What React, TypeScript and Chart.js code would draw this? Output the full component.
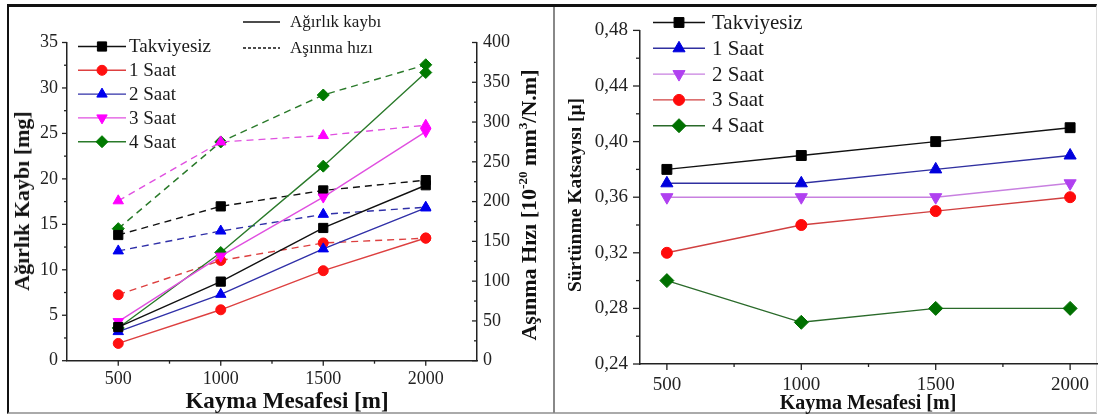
import React, { useEffect, useRef } from 'react';
import { Chart, registerables } from 'chart.js';
import { drawPoint } from 'chart.js/helpers';

Chart.register(...registerables);

// ---------- data ----------
const distances = [500, 1000, 1500, 2000];
const seriesNames = ['Takviyesiz', '1 Saat', '2 Saat', '3 Saat', '4 Saat'];
const lineStyleLabels = ['Ağırlık kaybı', 'Aşınma hızı'];

// weight loss [mg] (left axis, solid)
const weightLossTakviyesiz = [3.7, 8.7, 14.6, 19.3];
const weightLoss1Saat = [1.9, 5.6, 9.9, 13.5];
const weightLoss2Saat = [3.2, 7.3, 12.3, 16.8];
const weightLoss3Saat = [4.3, 11.5, 18.0, 25.2];
const weightLoss4Saat = [3.6, 11.9, 21.4, 31.7];

// wear rate [1e-20 mm3/N.m] (right axis, dashed)
const wearRateTakviyesiz = [158, 194, 214, 227];
const wearRate1Saat = [83, 126, 148, 154];
const wearRate2Saat = [138, 163, 184, 193];
const wearRate3Saat = [201, 275, 283, 296];
const wearRate4Saat = [166, 275, 334, 372];

// friction coefficient (right panel)
const frictionTakviyesiz = [0.38, 0.39, 0.40, 0.41];
const friction1Saat = [0.37, 0.37, 0.38, 0.39];
const friction2Saat = [0.36, 0.36, 0.36, 0.37];
const friction3Saat = [0.32, 0.34, 0.35, 0.36];
const friction4Saat = [0.30, 0.27, 0.28, 0.28];

// ticks
const xMajorTicks = [500, 1000, 1500, 2000];
const xMinorTicks = [750, 1250, 1750];
const mgMajorTicks = [0, 5, 10, 15, 20, 25, 30, 35];
const mgMinorTicks = [2.5, 7.5, 12.5, 17.5, 22.5, 27.5, 32.5];
const wearMajorTicks = [0, 50, 100, 150, 200, 250, 300, 350, 400];
const wearMinorTicks = [25, 75, 125, 175, 225, 275, 325, 375];
const muMajorTicks = [0.24, 0.28, 0.32, 0.36, 0.40, 0.44, 0.48];
const muMinorTicks = [0.26, 0.30, 0.34, 0.38, 0.42, 0.46];

// ---------- helpers ----------
const FONT = 'Liberation Serif';

const toPoints = (vals: number[]) => distances.map((x, i) => ({ x, y: vals[i] }));
const setTicks = (vals: number[]) => (scale: any) => {
  scale.ticks = vals.map((v) => ({ value: v }));
};
const fixW = (w: number) => (scale: any) => {
  scale.width = w;
};
const fixH = (h: number) => (scale: any) => {
  scale.height = h;
};

type Style = {
  line: string;
  marker: string;
  pointStyle: string;
  rotation: number;
  radius: number;
};

const mkSet = (label: string, vals: number[], st: Style, yAxisID: string, dashed: boolean) => ({
  label,
  data: toPoints(vals),
  borderColor: st.line,
  backgroundColor: st.marker,
  pointBackgroundColor: st.marker,
  pointBorderColor: st.marker,
  pointStyle: st.pointStyle,
  pointRotation: st.rotation,
  pointRadius: st.radius,
  pointBorderWidth: 1,
  borderWidth: 1.4,
  borderDash: dashed ? [7, 5] : [],
  yAxisID,
  tension: 0,
  fill: false,
});

function makeTickPlugin(id: string, specs: any[]) {
  return {
    id,
    afterDraw(chart: any) {
      const ctx = chart.ctx;
      const a = chart.chartArea;
      ctx.save();
      ctx.strokeStyle = '#222';
      ctx.lineWidth = 1.3;
      for (const s of specs) {
        const sc = chart.scales[s.axis];
        const draw = (vals: number[], len: number) =>
          vals.forEach((v) => {
            const p = sc.getPixelForValue(v);
            ctx.beginPath();
            if (s.axis === 'x') {
              ctx.moveTo(p, a.bottom);
              ctx.lineTo(p, a.bottom + len);
            } else if (s.side === 'left') {
              ctx.moveTo(a.left, p);
              ctx.lineTo(a.left - len, p);
            } else {
              ctx.moveTo(a.right, p);
              ctx.lineTo(a.right - len, p);
            }
            ctx.stroke();
          });
        draw(s.major, s.majorLen);
        draw(s.minor, s.minorLen);
      }
      ctx.restore();
    },
  };
}

function makeLegendPlugin(id: string, cfg: any) {
  return {
    id,
    afterDatasetsDraw(chart: any) {
      const ctx = chart.ctx;
      ctx.save();
      const items = cfg.items(chart);
      items.forEach((it: any, i: number) => {
        const y = cfg.y0 + i * cfg.dy;
        ctx.setLineDash(it.dash || []);
        ctx.strokeStyle = it.lineColor;
        ctx.lineWidth = 1.4;
        ctx.beginPath();
        ctx.moveTo(cfg.x1, y);
        ctx.lineTo(cfg.x2, y);
        ctx.stroke();
        ctx.setLineDash([]);
        if (it.pointStyle) {
          ctx.fillStyle = it.markerColor;
          ctx.strokeStyle = it.markerColor;
          ctx.lineWidth = 1;
          drawPoint(
            ctx,
            { pointStyle: it.pointStyle, rotation: it.rotation || 0, radius: it.radius, borderWidth: 1 } as any,
            (cfg.x1 + cfg.x2) / 2,
            y
          );
        }
        ctx.fillStyle = '#1a1a1a';
        ctx.font = cfg.font;
        ctx.textBaseline = 'middle';
        ctx.textAlign = 'left';
        ctx.fillText(it.label, cfg.tx, y + 1);
      });
      ctx.restore();
    },
  };
}

const axisCommon = (font: number, pad: number, fmt?: (v: any) => string) => ({
  grid: { display: true, drawOnChartArea: false, drawTicks: false },
  border: { display: true, color: '#222', width: 1.5 },
  ticks: {
    padding: pad,
    color: '#222',
    font: { family: FONT, size: font },
    maxRotation: 0,
    autoSkip: false,
    callback: fmt || ((v: any) => String(v)),
  },
});

// ---------- styles ----------
const leftStyles: Style[] = [
  { line: '#111111', marker: '#000000', pointStyle: 'rect', rotation: 0, radius: 6.5 },
  { line: '#dd4040', marker: '#ff1010', pointStyle: 'circle', rotation: 0, radius: 5 },
  { line: '#3030a8', marker: '#0000ee', pointStyle: 'triangle', rotation: 0, radius: 6 },
  { line: '#e050e0', marker: '#ff00ff', pointStyle: 'triangle', rotation: 180, radius: 6 },
  { line: '#2a7a2a', marker: '#007a00', pointStyle: 'rectRot', rotation: 0, radius: 6 },
];
const leftDashMarkers = ['rect', 'circle', 'triangle', 'triangle', 'rectRot'];

const rightStyles: Style[] = [
  { line: '#111111', marker: '#000000', pointStyle: 'rect', rotation: 0, radius: 7 },
  { line: '#3030a0', marker: '#0000dd', pointStyle: 'triangle', rotation: 0, radius: 7 },
  { line: '#c880e0', marker: '#b040f0', pointStyle: 'triangle', rotation: 180, radius: 7 },
  { line: '#d04040', marker: '#ff0a0a', pointStyle: 'circle', rotation: 0, radius: 5.5 },
  { line: '#2a6a2a', marker: '#007000', pointStyle: 'rectRot', rotation: 0, radius: 7 },
];

export default function App() {
  const leftRef = useRef<HTMLCanvasElement>(null);
  const rightRef = useRef<HTMLCanvasElement>(null);

  useEffect(() => {
    const weightLoss = [weightLossTakviyesiz, weightLoss1Saat, weightLoss2Saat, weightLoss3Saat, weightLoss4Saat];
    const wearRate = [wearRateTakviyesiz, wearRate1Saat, wearRate2Saat, wearRate3Saat, wearRate4Saat];
    const friction = [frictionTakviyesiz, friction1Saat, friction2Saat, friction3Saat, friction4Saat];

    const leftSets: any[] = [];
    seriesNames.forEach((n, i) => {
      leftSets.push(mkSet(n, weightLoss[i], leftStyles[i], 'y', false));
    });
    seriesNames.forEach((n, i) => {
      const st = { ...leftStyles[i], pointStyle: leftDashMarkers[i], rotation: 0 };
      leftSets.push(mkSet(n + ' – ' + lineStyleLabels[1], wearRate[i], st, 'y2', true));
    });

    const leftChart = new Chart(leftRef.current as HTMLCanvasElement, {
      type: 'line',
      data: { datasets: leftSets },
      options: {
        responsive: false,
        animation: false,
        layout: { padding: { top: 35.5, left: 0, right: 0, bottom: 0 }, autoPadding: false },
        plugins: { legend: { display: false }, tooltip: { enabled: false } },
        scales: {
          x: {
            type: 'linear',
            min: 250,
            max: 2250,
            afterBuildTicks: setTicks(xMajorTicks),
            afterFit: fixH(50.3),
            ...axisCommon(18, 8),
          },
          y: {
            type: 'linear',
            position: 'left',
            min: 0,
            max: 35,
            afterBuildTicks: setTicks(mgMajorTicks),
            afterFit: fixW(56),
            ...axisCommon(18, 9),
          },
          y2: {
            type: 'linear',
            position: 'right',
            min: 0,
            max: 400,
            afterBuildTicks: setTicks(wearMajorTicks),
            afterFit: fixW(76),
            ...axisCommon(18, 6),
          },
        },
      } as any,
      plugins: [
        makeTickPlugin('leftTicks', [
          { axis: 'x', major: xMajorTicks, minor: xMinorTicks, majorLen: 5, minorLen: 3 },
          { axis: 'y', side: 'left', major: mgMajorTicks, minor: mgMinorTicks, majorLen: 5, minorLen: 3 },
          { axis: 'y2', side: 'right', major: wearMajorTicks, minor: wearMinorTicks, majorLen: 5, minorLen: 3 },
        ]),
        makeLegendPlugin('leftLegend', {
          x1: 67,
          x2: 115,
          tx: 118,
          y0: 39.5,
          dy: 23.8,
          font: `19px "${FONT}"`,
          items: (chart: any) =>
            chart.data.datasets.slice(0, 5).map((ds: any) => ({
              label: ds.label,
              lineColor: ds.borderColor,
              markerColor: ds.pointBackgroundColor,
              pointStyle: ds.pointStyle,
              rotation: ds.pointRotation,
              radius: ds.pointRadius,
            })),
        }),
        makeLegendPlugin('styleLegend', {
          x1: 232,
          x2: 269,
          tx: 279,
          y0: 15,
          dy: 26,
          font: `17px "${FONT}"`,
          items: () => [
            { label: lineStyleLabels[0], lineColor: '#111', dash: [] },
            { label: lineStyleLabels[1], lineColor: '#111', dash: [3, 2] },
          ],
        }),
      ],
    });

    const rightSets = seriesNames.map((n, i) => mkSet(n, friction[i], rightStyles[i], 'y', false));

    const rightChart = new Chart(rightRef.current as HTMLCanvasElement, {
      type: 'line',
      data: { datasets: rightSets },
      options: {
        responsive: false,
        animation: false,
        layout: { padding: { top: 13, left: 0, right: 2, bottom: 0 }, autoPadding: false },
        plugins: { legend: { display: false }, tooltip: { enabled: false } },
        scales: {
          x: {
            type: 'linear',
            min: 400,
            max: 2100,
            afterBuildTicks: setTicks(xMajorTicks),
            afterFit: fixH(47),
            ...axisCommon(19, 9.5),
          },
          y: {
            type: 'linear',
            position: 'left',
            min: 0.24,
            max: 0.48,
            afterBuildTicks: setTicks(muMajorTicks),
            afterFit: fixW(83),
            ...axisCommon(19, 12, (v: any) => Number(v).toFixed(2).replace('.', ',')),
          },
        },
      } as any,
      plugins: [
        makeTickPlugin('rightTicks', [
          { axis: 'x', major: xMajorTicks, minor: xMinorTicks, majorLen: 6, minorLen: 3 },
          { axis: 'y', side: 'left', major: muMajorTicks, minor: muMinorTicks, majorLen: 7, minorLen: 4 },
        ]),
        makeLegendPlugin('rightLegend', {
          x1: 96,
          x2: 148,
          tx: 155,
          y0: 15.5,
          dy: 25.8,
          font: `21px "${FONT}"`,
          items: (chart: any) =>
            chart.data.datasets.map((ds: any) => ({
              label: ds.label,
              lineColor: ds.borderColor,
              markerColor: ds.pointBackgroundColor,
              pointStyle: ds.pointStyle,
              rotation: ds.pointRotation,
              radius: ds.pointRadius,
            })),
        }),
      ],
    });

    return () => {
      leftChart.destroy();
      rightChart.destroy();
    };
  }, []);

  const titleBase: React.CSSProperties = {
    position: 'absolute',
    fontFamily: `"${FONT}", serif`,
    fontWeight: 'bold',
    color: '#111',
    whiteSpace: 'nowrap',
    lineHeight: 1,
  };
  const at = (cx: number, cy: number, size: number, rot: boolean): React.CSSProperties => ({
    ...titleBase,
    left: cx,
    top: cy,
    fontSize: size,
    transform: `translate(-50%, -50%)${rot ? ' rotate(-90deg)' : ''}`,
  });
  const sup: React.CSSProperties = { fontSize: '0.6em', verticalAlign: '0.7em', lineHeight: 0 };

  return (
    <div
      style={{
        position: 'absolute',
        left: 0,
        top: 0,
        width: 1099,
        height: 416,
        background: '#fff',
        overflow: 'hidden',
      }}
    >
      <div
        style={{
          position: 'absolute',
          left: 7,
          top: 4,
          width: 1090,
          height: 410,
          borderTop: '3px solid #111',
          borderLeft: '2px solid #111',
          borderBottom: '2px solid #aaa',
          borderRight: '1px solid #ddd',
          boxSizing: 'border-box',
        }}
      />
      <div style={{ position: 'absolute', left: 553, top: 7, width: 2, height: 406, background: '#888' }} />
      <canvas ref={leftRef} width={542} height={404} style={{ position: 'absolute', left: 11, top: 7 }} />
      <canvas ref={rightRef} width={542} height={404} style={{ position: 'absolute', left: 557, top: 7 }} />

      <div style={at(22, 201, 22, true)}>Ağırlık Kaybı [mg]</div>
      <div style={at(529, 205, 22, true)}>
        Aşınma Hızı [10<span style={sup}>-20</span> mm<span style={sup}>3</span>/N.m]
      </div>
      <div style={at(287, 400, 23, false)}>Kayma Mesafesi [m]</div>
      <div style={at(575, 195, 19.5, true)}>Sürtünme Katsayısı [μ]</div>
      <div style={at(868, 402, 20, false)}>Kayma Mesafesi [m]</div>
    </div>
  );
}
